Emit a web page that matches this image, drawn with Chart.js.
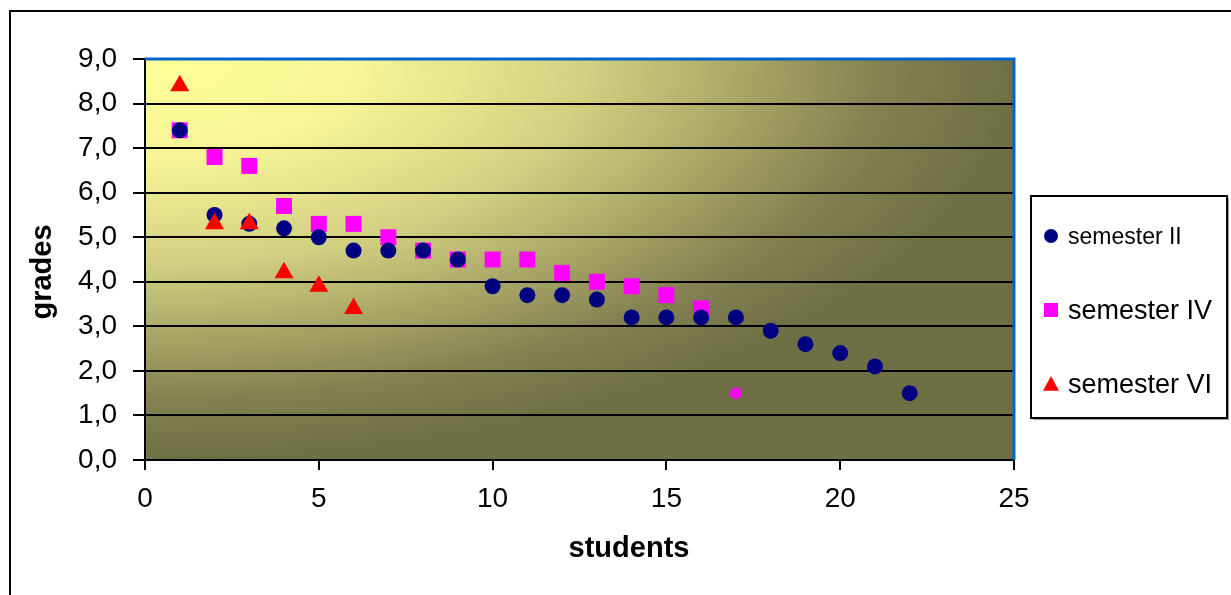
<!DOCTYPE html>
<html>
<head>
<meta charset="utf-8">
<script src="https://cdn.jsdelivr.net/npm/chart.js@4.4.1/dist/chart.umd.min.js"></script>
<style>
  html, body { margin: 0; padding: 0; background: #fff; overflow: hidden; }
  #wrap { position: relative; width: 1231px; height: 595px; }
  #frame { position: absolute; left: 9px; top: 10px; width: 1300px; height: 700px;
           border-left: 2px solid #000; border-top: 2px solid #000; }
  canvas { position: absolute; left: 0; top: 0; }
</style>
</head>
<body>
<div id="wrap">
  <div id="frame"></div>
  <canvas id="grafico" width="1231" height="595"></canvas>
</div>
<script>
// valores
const alunosII = [1, 2, 3, 4, 5, 6, 7, 8, 9, 10, 11, 12, 13, 14, 15, 16, 17, 18, 19, 20, 21, 22];
const notasII  = [7.4, 5.5, 5.3, 5.2, 5.0, 4.7, 4.7, 4.7, 4.5, 3.9, 3.7, 3.7, 3.6, 3.2, 3.2, 3.2, 3.2, 2.9, 2.6, 2.4, 2.1, 1.5];

const alunosIV = [1, 2, 3, 4, 5, 6, 7, 8, 9, 10, 11, 12, 13, 14, 15, 16, 17];
const notasIV  = [7.4, 6.8, 6.6, 5.7, 5.3, 5.3, 5.0, 4.7, 4.5, 4.5, 4.5, 4.2, 4.0, 3.9, 3.7, 3.4, 1.5];

const alunosVI = [1, 2, 3, 4, 5, 6];
const notasVI  = [8.4, 5.3, 5.3, 4.2, 3.9, 3.4];

const nomesSeries = ["semester II", "semester IV", "semester VI"];
const xTicks = [0, 5, 10, 15, 20, 25];
const yTicks = [0, 1, 2, 3, 4, 5, 6, 7, 8, 9];
const tituloX = "students";
const tituloY = "grades";

const FONTE = "'Liberation Sans', Arial, sans-serif";

function pontos(xs, ys) {
    return xs.map((x, i) => ({ x: x, y: ys[i] }));
}

// ponto 17 do semestre IV aparece como bolinha pequena
const estiloIV = notasIV.map((v, i) => i === 16 ? 'circle' : 'rect');
const raioIV = notasIV.map((v, i) => i === 16 ? 6 : 11.3);

// fundo em degradê da área do gráfico
const fundoPlugin = {
    id: 'fundo',
    beforeDraw(chart) {
        const { ctx, chartArea: a } = chart;
        const w = a.right - a.left, h = a.bottom - a.top;
        ctx.save();
        ctx.beginPath();
        ctx.rect(a.left, a.top, w, h);
        ctx.clip();
        ctx.translate(a.left, a.top);
        ctx.scale(w, h);
        const g = ctx.createRadialGradient(0, 0, 0, 0, 0, 1);
        g.addColorStop(0, '#FFFF99');
        g.addColorStop(0.25, '#F6F496');
        g.addColorStop(0.5, '#D4D282');
        g.addColorStop(0.7, '#A6A465');
        g.addColorStop(0.85, '#838151');
        g.addColorStop(1, '#6F6F45');
        ctx.fillStyle = g;
        ctx.fillRect(0, 0, 1.6, 1.6);
        ctx.restore();
    },
    beforeDatasetsDraw(chart) {
        // borda azul em cima e à direita
        const { ctx, chartArea: a } = chart;
        ctx.save();
        ctx.strokeStyle = '#0066CC';
        ctx.lineWidth = 3;
        ctx.beginPath();
        ctx.moveTo(a.left, a.top);
        ctx.lineTo(a.right, a.top);
        ctx.lineTo(a.right, a.bottom);
        ctx.stroke();
        ctx.restore();
    }
};

function marcador(ctx, tipo, x, y, r, cor) {
    ctx.fillStyle = cor;
    ctx.beginPath();
    if (tipo === 'circle') {
        ctx.arc(x, y, r, 0, Math.PI * 2);
    } else if (tipo === 'rect') {
        ctx.rect(x - r, y - r, 2 * r, 2 * r);
    } else {
        ctx.moveTo(x, y - r);
        ctx.lineTo(x + r, y + r * 0.85);
        ctx.lineTo(x - r, y + r * 0.85);
        ctx.closePath();
    }
    ctx.fill();
}

// legenda e títulos dos eixos
const legendaPlugin = {
    id: 'legenda',
    afterDraw(chart) {
        const ctx = chart.ctx;
        const bx = 1031, by = 196, bw = 196, bh = 222;
        ctx.save();
        ctx.fillStyle = '#9a9a9a';
        ctx.fillRect(bx + 2, by + 2, bw, bh);
        ctx.fillStyle = '#fff';
        ctx.fillRect(bx, by, bw, bh);
        ctx.strokeStyle = '#000';
        ctx.lineWidth = 2;
        ctx.strokeRect(bx, by, bw, bh);
        const itens = [
            { tipo: 'circle', cor: '#000080', r: 7, y: 236, tam: 23 },
            { tipo: 'rect', cor: '#FF00FF', r: 7, y: 310, tam: 27 },
            { tipo: 'tri', cor: '#FF0000', r: 8, y: 384, tam: 27 }
        ];
        itens.forEach((it, i) => {
            marcador(ctx, it.tipo, 1051, it.y, it.r, it.cor);
            ctx.fillStyle = '#000';
            ctx.font = it.tam + 'px ' + FONTE;
            ctx.textBaseline = 'middle';
            ctx.textAlign = 'left';
            ctx.fillText(nomesSeries[i], 1068, it.y + 2);
        });

        ctx.font = 'bold 29px ' + FONTE;
        ctx.textAlign = 'center';
        ctx.textBaseline = 'middle';
        ctx.fillText(tituloX, 629, 549);
        ctx.translate(43, 272);
        ctx.rotate(-Math.PI / 2);
        ctx.fillText(tituloY, 0, 0);
        ctx.restore();
    }
};

const ctx = document.getElementById('grafico').getContext('2d');
new Chart(ctx, {
    type: 'scatter',
    data: {
        datasets: [
            {
                label: nomesSeries[0],
                data: pontos(alunosII, notasII),
                pointStyle: 'circle',
                pointRadius: 8,
                backgroundColor: '#000080',
                borderWidth: 0,
                order: 1
            },
            {
                label: nomesSeries[1],
                data: pontos(alunosIV, notasIV),
                pointStyle: estiloIV,
                pointRadius: raioIV,
                backgroundColor: '#FF00FF',
                borderWidth: 0,
                order: 2
            },
            {
                label: nomesSeries[2],
                data: pontos(alunosVI, notasVI),
                pointStyle: 'triangle',
                pointRadius: 11,
                backgroundColor: '#FF0000',
                borderWidth: 0,
                order: 0
            }
        ]
    },
    options: {
        responsive: false,
        animation: false,
        layout: { padding: { left: 0, top: 59, right: 217, bottom: 0 } },
        plugins: {
            legend: { display: false },
            tooltip: { enabled: false }
        },
        scales: {
            x: {
                type: 'linear',
                min: 0,
                max: 25,
                afterBuildTicks: (s) => { s.ticks = xTicks.map(v => ({ value: v })); },
                afterFit: (s) => { s.height = 135; },
                grid: { drawOnChartArea: false, drawTicks: true, tickLength: 10, color: '#000', lineWidth: 2 },
                border: { color: '#000', width: 2 },
                ticks: { color: '#000', font: { family: FONTE, size: 28 }, padding: 12, maxRotation: 0 }
            },
            y: {
                min: 0,
                max: 9,
                afterBuildTicks: (s) => { s.ticks = yTicks.map(v => ({ value: v })); },
                afterFit: (s) => { s.width = 145; },
                grid: { color: '#000', lineWidth: 2, tickLength: 12 },
                border: { color: '#000', width: 2 },
                ticks: {
                    color: '#000', font: { family: FONTE, size: 28 }, padding: 16,
                    callback: (v) => v.toFixed(1).replace('.', ',')
                }
            }
        }
    },
    plugins: [fundoPlugin, legendaPlugin]
});
</script>
</body>
</html>
